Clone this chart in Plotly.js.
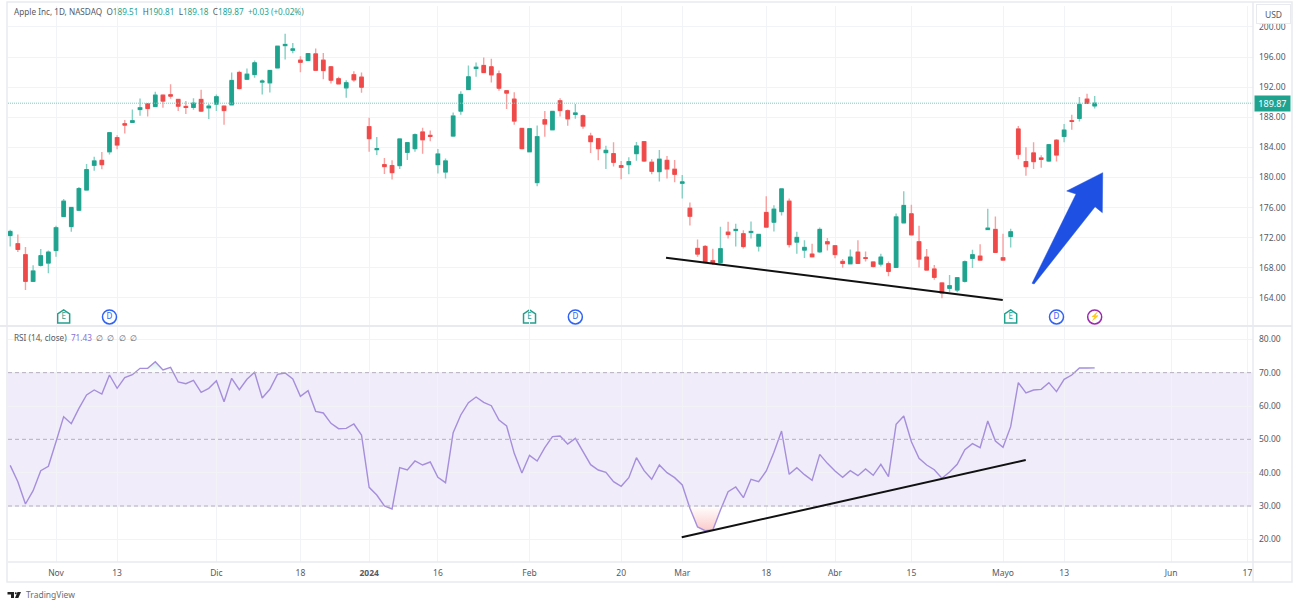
<!DOCTYPE html>
<html><head><meta charset="utf-8">
<script src="https://cdn.plot.ly/plotly-3.0.1.min.js"></script>
<style>html,body{margin:0;padding:0;background:#fff}#c{width:1299px;height:607px}</style>
</head><body><div id="c"></div>
<script>
const open=[172.30,171.20,169.74,166.21,168.33,168.64,170.31,174.82,173.49,175.66,178.35,181.62,182.28,183.43,185.29,187.14,187.32,189.04,189.79,189.44,190.94,190.99,190.37,189.44,189.31,190.37,189.26,189.75,189.48,189.66,193.95,193.06,193.68,192.67,192.58,194.56,197.52,196.90,195.58,195.54,196.42,195.58,194.70,193.11,191.91,193.64,193.33,186.75,183.70,181.71,181.58,181.58,183.34,183.83,186.04,185.60,181.71,180.74,185.51,188.82,191.69,194.48,194.87,194.70,193.77,191.52,190.41,186.52,183.43,179.33,187.67,186.35,190.19,188.87,188.38,188.20,185.51,185.16,183.30,183.17,181.58,181.71,183.17,184.76,182.02,180.78,182.28,181.09,179.24,175.92,170.58,170.84,168.94,168.72,172.74,172.96,172.52,172.70,170.89,175.35,174.07,175.48,176.85,171.42,170.36,169.83,170.14,171.46,170.93,168.86,168.55,170.09,169.34,168.77,168.50,168.55,168.06,173.98,175.17,171.46,169.43,167.84,165.99,165.28,165.06,166.21,169.26,169.56,173.10,173.10,169.34,172.17,186.44,182.11,183.26,182.59,182.20,184.94,185.46,187.54,187.85,190.41,189.51];
const high=[173.05,172.44,170.76,168.33,170.49,170.31,173.58,177.16,176.01,178.75,181.80,182.77,183.39,185.95,185.60,187.63,189.04,190.50,189.79,191.38,190.94,192.40,190.37,190.15,190.54,191.65,189.75,191.03,189.48,193.95,194.17,194.48,195.54,193.02,194.21,197.43,199.11,197.88,196.11,196.46,197.13,196.55,194.80,193.37,192.93,194.12,193.95,187.94,185.38,182.59,182.28,185.11,184.63,185.86,186.61,186.26,183.79,182.51,188.65,191.47,194.87,195.27,195.93,195.76,194.21,191.60,191.34,186.60,186.55,186.92,188.82,188.85,190.54,189.04,189.75,188.38,185.95,185.16,184.23,184.67,182.20,182.68,184.71,184.85,182.42,183.65,182.86,182.33,180.34,176.67,171.77,171.02,170.54,173.45,174.11,173.85,173.01,174.16,172.44,177.51,176.32,178.49,177.21,172.79,171.68,171.20,173.36,171.95,170.98,169.17,170.45,171.68,170.18,168.86,169.87,168.86,175.22,178.18,176.37,173.58,170.49,168.37,166.07,167.04,166.78,168.99,170.40,171.15,175.84,174.82,172.52,173.19,186.83,184.01,184.67,182.95,184.40,185.11,187.10,188.33,190.68,191.12,190.81];
const low=[170.84,170.09,165.06,166.21,168.19,167.27,169.48,174.82,172.79,175.66,178.35,180.91,181.09,183.04,183.74,185.86,187.23,188.20,188.11,189.35,189.26,190.46,188.82,188.42,188.99,188.69,187.76,188.82,187.01,189.66,191.69,193.06,193.24,191.03,191.29,194.48,195.67,196.51,193.99,195.45,194.25,193.06,192.49,192.40,190.59,192.71,191.25,183.43,182.99,180.47,179.72,181.14,182.33,183.43,183.17,184.80,180.52,179.86,185.51,188.33,191.69,193.37,193.95,192.62,191.52,189.09,187.01,183.75,183.35,178.84,185.42,186.30,188.11,186.88,187.80,186.48,183.26,182.28,181.14,181.45,179.77,180.43,182.24,182.06,180.43,179.46,179.86,179.37,177.21,173.63,169.48,168.59,168.37,168.59,171.90,170.84,170.58,171.90,170.18,173.41,172.83,174.95,170.71,169.87,169.30,169.39,169.96,170.31,169.26,168.02,168.50,168.55,168.86,168.06,168.19,166.87,168.02,173.98,172.30,168.06,167.66,166.43,163.95,164.79,164.75,166.07,167.97,168.99,173.10,169.96,168.99,170.71,182.42,180.25,181.14,181.31,182.06,182.11,184.67,186.35,187.45,189.79,189.18];
const close=[172.83,170.45,166.21,167.58,169.61,170.09,173.32,176.85,176.01,178.53,181.05,182.20,181.71,185.95,184.32,186.97,187.54,189.26,189.17,190.94,190.15,190.81,189.48,189.31,189.88,188.82,189.48,190.72,188.91,192.88,191.82,193.72,195.23,192.80,194.21,197.43,197.66,197.08,195.31,196.46,194.25,194.21,192.93,192.44,192.58,192.97,192.00,185.16,183.83,181.45,180.65,185.11,184.63,185.69,185.02,185.46,183.12,182.20,188.16,191.03,193.37,194.65,193.95,193.64,191.87,191.21,187.50,183.83,186.48,185.42,187.10,188.78,188.91,187.80,188.56,186.83,184.76,183.83,183.61,182.02,181.36,182.11,184.18,182.20,180.83,182.42,181.14,180.43,179.41,174.86,169.83,168.72,168.59,170.54,172.44,173.10,170.84,172.83,172.44,173.41,175.79,178.49,171.11,172.04,170.71,169.48,173.10,171.20,169.78,168.59,169.43,168.59,169.26,168.19,169.43,167.53,174.77,176.28,172.39,169.17,167.71,166.74,164.66,165.63,166.69,168.81,169.74,169.03,173.27,170.05,169.03,172.79,183.08,181.45,182.11,182.42,184.36,182.99,186.30,187.45,189.70,189.84,189.87];
const rsi=[42.2,37.3,30.6,34.6,40.6,41.9,49.3,56.8,54.7,59.3,63.3,64.8,63.6,69.3,65.3,68.5,69.4,71.3,71.3,73.3,70.8,71.6,67.2,66.7,67.7,64.1,65.3,67.6,61.3,68.3,64.9,68.0,70.1,62.4,65.0,69.5,69.9,68.1,62.9,64.6,58.4,57.9,54.8,53.2,53.3,54.6,51.3,35.6,33.3,30.0,29.1,41.5,40.8,43.5,42.3,43.2,38.6,37.0,52.0,57.3,61.0,62.7,61.1,60.1,55.8,54.0,45.8,39.9,45.2,43.5,47.5,50.8,51.0,48.6,50.3,46.5,42.4,40.8,40.1,37.3,35.9,38.5,44.5,40.6,38.0,42.3,40.0,38.5,36.3,29.3,23.7,22.6,22.8,28.8,34.3,35.7,32.5,38.0,37.3,40.5,46.1,52.5,39.5,41.5,39.4,37.7,45.5,42.8,40.5,38.6,40.6,39.1,41.1,39.2,42.5,38.8,54.5,57.0,49.3,44.3,42.3,40.9,38.3,40.2,42.5,46.9,48.7,47.5,55.5,49.5,47.6,53.8,67.0,63.9,64.8,65.0,67.0,64.3,68.0,69.3,71.4,71.4,71.43];
const tickIdx=[6,14,27,38,47,56,68,80,88,99,108,118,130,138,152,162];
const tickLabels=['Nov','13','Dic','18','<b>2024</b>','16','Feb','20','Mar','18','Abr','15','Mayo','13','Jun','17'];
const priceTicks=[164,168,172,176,180,184,188,192,196,200];
const rsiTicks=[20,30,40,50,60,70,80];
const lastPrice=189.87;
const eventIdx={E:[7,68,131],D:[13,74,137],L:[142]};
const eventPrice=161.48;
const priceTrendX=[85.87,129.96], priceTrendY=[169.35,163.73];
const rsiTrendX=[87.93,132.97], rsiTrendY=[20.6,43.8];
const arrowX=[133.8,134.07,142.05,143.0,143.05,138.34,139.56];
const arrowY=[165.95,165.86,176.12,175.33,180.64,178.21,177.81];

const UP='#1fa38f',DN='#ef4a4a',FONT='"Noto Sans",sans-serif',TXT='#565a64';
const X=open.map((_,i)=>i);
const px=x=>(x-8)/1245, py=y=>(562-y)/556;
const wick={type:'candlestick',x:X,open,high,low,close,hoverinfo:'skip',whiskerwidth:0,
 increasing:{line:{color:'#86d0c4',width:1.4},fillcolor:UP},decreasing:{line:{color:'#f9a0a0',width:1.4},fillcolor:DN},xaxis:'x',yaxis:'y'};
const body={type:'candlestick',x:X,open,close,high:open.map((o,i)=>Math.max(o,close[i])),low:open.map((o,i)=>Math.min(o,close[i])),hoverinfo:'skip',whiskerwidth:0,
 increasing:{line:{color:UP,width:1},fillcolor:UP},decreasing:{line:{color:DN,width:1},fillcolor:DN},xaxis:'x',yaxis:'y'};
function zones(level,isOut){
 const out=[];let cur=null;
 rsi.forEach((v,i)=>{
  if(isOut(v)){
   if(!cur){cur={x:[],y:[]};if(i>0){const t=(level-rsi[i-1])/(v-rsi[i-1]);cur.x.push(i-1+t);cur.y.push(level);}}
   cur.x.push(i);cur.y.push(v);
  }else if(cur){const t=(level-rsi[i-1])/(v-rsi[i-1]);cur.x.push(i-1+t);cur.y.push(level);out.push(cur);cur=null;}
 });
 if(cur){cur.x.push(cur.x[cur.x.length-1]);cur.y.push(level);out.push(cur);}
 return out;
}
const zoneTraces=[
 ...zones(30,v=>v<30).map(z=>({type:'scatter',mode:'none',x:z.x,y:z.y,fill:'toself',hoverinfo:'skip',xaxis:'x',yaxis:'y2',
   fillgradient:{type:'vertical',start:30,stop:22.6,colorscale:[[0,'rgba(239,83,80,0)'],[1,'rgba(239,83,80,0.3)']]}})),
 ...zones(70,v=>v>70).map(z=>({type:'scatter',mode:'none',x:z.x,y:z.y,fill:'toself',hoverinfo:'skip',xaxis:'x',yaxis:'y2',
   fillgradient:{type:'vertical',start:70,stop:74,colorscale:[[0,'rgba(38,166,154,0)'],[1,'rgba(38,166,154,0.22)']]}}))
];
const rsiLine={type:'scatter',mode:'lines',x:X,y:rsi,line:{color:'#a58edb',width:1.4},hoverinfo:'skip',xaxis:'x',yaxis:'y2'};
const evTrace=(k,sym,col,txt,sz)=>{
 const t={type:'scatter',mode:sym?'markers+text':'text',x:eventIdx[k],y:eventIdx[k].map(()=>eventPrice),
  text:eventIdx[k].map(()=>txt),textposition:'middle center',
  textfont:{family:FONT,size:8,color:col},cliponaxis:false,hoverinfo:'skip',xaxis:'x',yaxis:'y'};
 if(sym)t.marker={symbol:sym,size:sz,color:'#fff',line:{color:col,width:1.5}};
 return t;
};
const data=[wick,body,...zoneTraces,rsiLine,
 evTrace('E',null,'#22a08e','E',14),evTrace('D','circle','#2f62f5','D',14),evTrace('L','circle','#9c27b0','⚡',14)];
const paperLine=(x0,y0,x1,y1,c,w)=>({type:'line',xref:'paper',yref:'paper',x0:px(x0),x1:px(x1),y0:py(y0),y1:py(y1),line:{color:c,width:w||1},layer:'above'});
const shapes=[
 {type:'rect',xref:'paper',yref:'y2',x0:0,x1:1,y0:30,y1:70,fillcolor:'#f0ecf9',line:{width:0},layer:'below'},
 ...[70,50,30].map(v=>({type:'line',xref:'paper',yref:'y2',x0:0,x1:1,y0:v,y1:v,line:{color:'#b5aebf',width:1,dash:'4px,3px'},layer:'above'})),
 {type:'line',xref:'paper',yref:'y',x0:0,x1:1,y0:lastPrice,y1:lastPrice,line:{color:'#7fcabd',width:1,dash:'1px,1px'},layer:'above'},
 {type:'line',xref:'x',yref:'y',x0:priceTrendX[0],x1:priceTrendX[1],y0:priceTrendY[0],y1:priceTrendY[1],line:{color:'#111',width:2},layer:'above'},
 {type:'line',xref:'x',yref:'y2',x0:rsiTrendX[0],x1:rsiTrendX[1],y0:rsiTrendY[0],y1:rsiTrendY[1],line:{color:'#111',width:2},layer:'above'},
 {type:'path',xref:'x',yref:'y',path:'M'+arrowX.map((x,i)=>x+' '+arrowY[i]).join(' L')+' Z',fillcolor:'#1d50e3',line:{color:'#1d50e3',width:0.5},layer:'above'},
 ...eventIdx.E.map(i=>({type:'path',xref:'x',yref:'y',xsizemode:'pixel',ysizemode:'pixel',xanchor:i,yanchor:eventPrice,
   path:'M-6 -6 L6 -6 L6 3 L0 7 L-6 3 Z',fillcolor:'#fff',line:{color:'#22a08e',width:1.5},layer:'below'})),
 paperLine(0,326,1292,326,'#e9eaef',2),paperLine(8,562,1292,562,'#e9eaef',1.5),paperLine(1253,2,1253,582,'#e9eaef',1.5),
 {type:'rect',xref:'paper',yref:'paper',x0:px(7),x1:px(1292),y0:py(582),y1:py(2),line:{color:'#e9eaef',width:1.5},layer:'above'},
 {type:'path',xref:'paper',yref:'paper',fillcolor:'#222',line:{width:0},layer:'above',
  path:'M'+[[7.5,592],[14,592],[14,598],[11,598],[11,594.5],[7.5,594.5]].map(p=>px(p[0])+' '+py(p[1])).join(' L')+' Z'},
 {type:'path',xref:'paper',yref:'paper',fillcolor:'#222',line:{width:0},layer:'above',
  path:'M'+[[17.5,592],[21,592],[18.3,598],[15,598]].map(p=>px(p[0])+' '+py(p[1])).join(' L')+' Z'},
 {type:'circle',xref:'paper',yref:'paper',x0:px(14.8),x1:px(16.8),y0:py(594.2),y1:py(592.2),fillcolor:'#222',line:{width:0},layer:'above'}
];
const ann=(x,y,t,o)=>Object.assign({xref:'paper',yref:'paper',x:px(x),y:py(y),text:t,showarrow:false,xanchor:'left',yanchor:'middle',font:{family:FONT,size:8.2,color:TXT},borderpad:0},o||{});
const G=s=>'<span style="color:#1fa38f">'+s+'</span>';
const annotations=[
 ann(13,11,'Apple Inc, 1D, NASDAQ  O'+G('189.51')+'  H'+G('190.81')+'  L'+G('189.18')+'  C'+G('189.87')+'  '+G('+0.03 (+0.02%)')),
 ann(13,337,'RSI (14, close)  <span style="color:#8a6fd1">71.43</span>  ∅  ∅  ∅  ∅'),
 ann(25,594,'TradingView',{font:{family:FONT,size:8.5,color:'#6a6d76'}}),
 ann(1256,13.5,'USD',{width:33,height:18,align:'center',bgcolor:'#fff',bordercolor:'#e9eaef',borderwidth:1,font:{family:FONT,size:8.5,color:TXT}}),
 ann(1254,103,' '+lastPrice.toFixed(2)+' ',{bgcolor:UP,borderpad:1,font:{family:FONT,size:9,color:'#fff'}})
];
const layout={width:1299,height:607,margin:{l:8,r:46,t:6,b:45},paper_bgcolor:'#fff',plot_bgcolor:'#fff',showlegend:false,hovermode:false,
 boxgap:0.35,
 xaxis:{domain:[0,1],range:[-0.288,162.73],anchor:'y2',tickmode:'array',tickvals:tickIdx,ticktext:tickLabels,ticks:'',tickfont:{family:FONT,size:8.5,color:TXT},gridcolor:'#f2f3f7',gridwidth:1,showline:false,zeroline:false,rangeslider:{visible:false},ticklabelstandoff:4,fixedrange:true},
 yaxis:{domain:[py(325),1],range:[160.41,202.78],side:'right',anchor:'x',tickmode:'array',tickvals:priceTicks,tickformat:'.2f',ticks:'',tickfont:{family:FONT,size:8.5,color:TXT},gridcolor:'#f2f3f7',zeroline:false,showline:false,ticklabelstandoff:5,fixedrange:true},
 yaxis2:{domain:[0,py(327)],range:[13.2,83.7],side:'right',anchor:'x',tickmode:'array',tickvals:rsiTicks,tickformat:'.2f',ticks:'',tickfont:{family:FONT,size:8.5,color:TXT},gridcolor:'#f2f3f7',zeroline:false,showline:false,ticklabelstandoff:5,fixedrange:true},
 shapes,annotations};
Plotly.newPlot('c',data,layout,{displayModeBar:false,staticPlot:true});
</script></body></html>
